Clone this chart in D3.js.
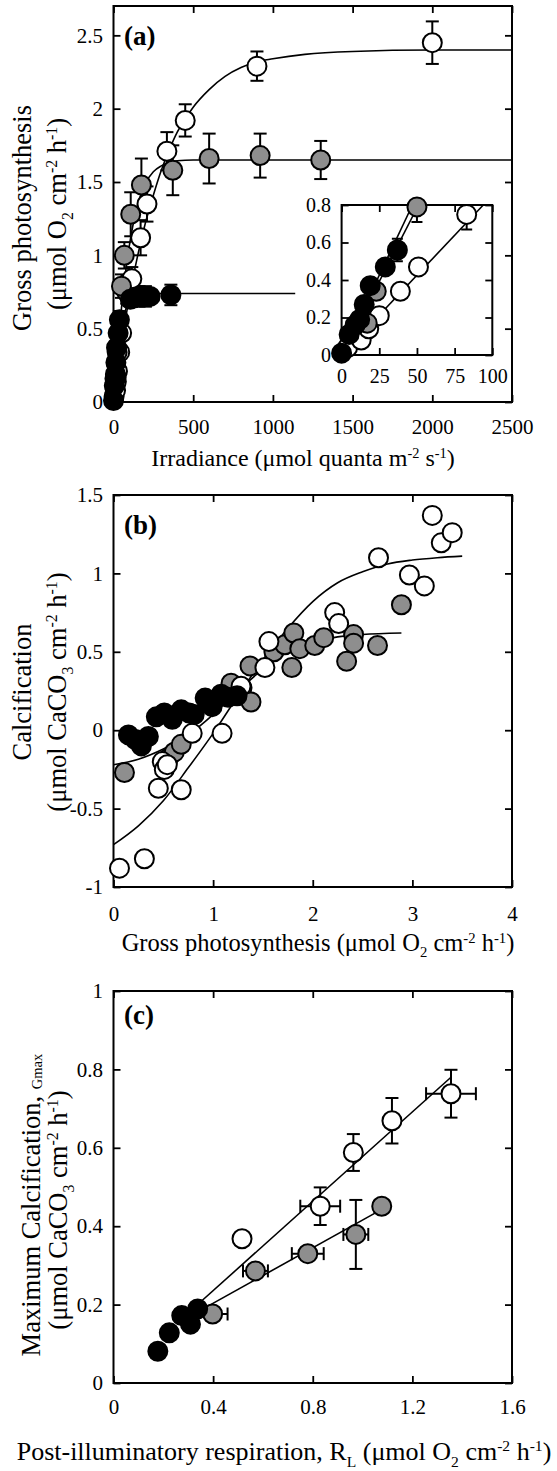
<!DOCTYPE html>
<html lang="en">
<head>
<meta charset="UTF-8">
<title>Photosynthesis and calcification</title>
<script src="https://cdn.jsdelivr.net/npm/d3@7"></script>
<style>
  body { margin: 0; background: #fff; }
  svg { display: block; }
</style>
</head>
<body>
<script>
// ---------- data ----------
// panel (a): [irradiance, gross photosynthesis, sd]
const aWhite = [[4,0.04,0],[13,0.08,0],[18,0.14,0],[25,0.21,0],[39,0.34,0],[51,0.47,0],[83,0.75,0.08],[115,0.84,0.08],[170,1.12,0.12],[210,1.35,0.12],[335,1.71,0.13],[450,1.92,0.11],[900,2.29,0.1],[2000,2.45,0.145]];
const aGray  = [[17,0.17,0],[23,0.34,0],[50,0.79,0.08],[68,1.0,0.09],[108,1.28,0.15],[175,1.48,0.18],[372,1.58,0.17],[600,1.66,0.17],[920,1.68,0.15],[1300,1.65,0.13]];
const aBlack = [[0,0.01,0],[5,0.11,0],[9,0.16,0],[12,0.19,0],[15,0.27,0],[19,0.37,0],[29,0.47,0],[37,0.56,0.06],[105,0.70,0],[130,0.71,0],[160,0.72,0.07],[200,0.72,0.07],[230,0.72,0],[360,0.73,0.07]];
// fitted P-I curves
const aWhiteFit = [[0,0],[50,0.39],[100,0.72],[150,0.99],[200,1.22],[250,1.41],[300,1.58],[350,1.72],[400,1.84],[450,1.93],[500,2.01],[600,2.13],[700,2.22],[800,2.28],[900,2.32],[1000,2.34],[1200,2.37],[1500,2.39],[2000,2.4],[2500,2.4]];
const aGrayFit  = [[0,0],[25,0.35],[50,0.64],[75,0.88],[100,1.07],[150,1.34],[200,1.49],[250,1.57],[300,1.61],[350,1.635],[400,1.645],[500,1.65],[2500,1.65]];
const aBlackFit = [[0,0],[10,0.15],[20,0.28],[30,0.38],[40,0.46],[60,0.57],[80,0.64],[100,0.68],[150,0.725],[200,0.737],[300,0.74],[1140,0.74]];
// inset (initial slope) lines
const insetWhiteFit = [[0,0],[94,0.8]];
const insetGrayFit  = [[0,0],[51,0.8]];
const insetBlackFit = [[0,0],[47,0.8]];
const aXTicks = [0,500,1000,1500,2000,2500];
const aYTicks = [0,0.5,1,1.5,2,2.5];
const insetXTicks = [0,25,50,75,100];
const insetYTicks = [0,0.2,0.4,0.6,0.8];

// panel (b): [gross photosynthesis, calcification]
const bWhite = [[0.06,-0.88],[0.31,-0.82],[0.45,-0.37],[0.68,-0.38],[0.49,-0.20],[0.51,-0.25],[0.54,-0.22],[0.79,-0.02],[1.09,-0.02],[1.28,0.28],[1.52,0.40],[1.56,0.565],[2.22,0.75],[2.26,0.68],[2.66,1.10],[2.97,0.99],[3.12,0.92],[3.20,1.37],[3.29,1.195],[3.40,1.26]];
const bGray  = [[0.11,-0.27],[0.55,-0.18],[0.61,-0.14],[0.68,-0.09],[1.18,0.30],[1.29,0.27],[1.37,0.41],[1.38,0.18],[1.61,0.50],[1.72,0.545],[1.79,0.40],[1.81,0.62],[1.87,0.52],[2.02,0.54],[2.11,0.59],[2.34,0.44],[2.41,0.61],[2.41,0.555],[2.65,0.54],[2.89,0.80]];
const bBlack = [[0.15,-0.03],[0.22,-0.06],[0.28,-0.10],[0.35,-0.04],[0.43,0.085],[0.51,0.11],[0.59,0.07],[0.68,0.13],[0.76,0.11],[0.81,0.10],[0.92,0.205],[0.99,0.15],[1.08,0.23],[1.15,0.21],[1.24,0.22]];
const bWhiteFit = [[0,-0.73],[0.25,-0.61],[0.5,-0.45],[0.75,-0.24],[1.0,-0.02],[1.25,0.22],[1.5,0.45],[1.75,0.65],[2.0,0.82],[2.25,0.94],[2.5,1.01],[2.75,1.06],[3.0,1.085],[3.25,1.10],[3.5,1.11]];
const bGrayFit  = [[0,-0.22],[0.25,-0.185],[0.5,-0.12],[0.75,-0.03],[1.0,0.10],[1.25,0.25],[1.5,0.39],[1.75,0.50],[2.0,0.56],[2.25,0.595],[2.5,0.61],[2.89,0.62]];
const bXTicks = [0,1,2,3,4];
const bYTicks = [-1,-0.5,0,0.5,1,1.5];

// panel (c): [R_L, Gmax, x sd, y sd]
const cWhite = [[0.516,0.368,0.02,0.012],[0.83,0.451,0.08,0.048],[0.963,0.588,0,0.047],[1.118,0.669,0,0.058],[1.355,0.738,0.10,0.061]];
const cGray  = [[0.398,0.176,0.06,0],[0.57,0.286,0.05,0],[0.78,0.33,0.064,0],[0.973,0.379,0.05,0.088],[1.077,0.451,0.03,0]];
const cBlack = [[0.178,0.081,0,0],[0.224,0.128,0,0],[0.274,0.172,0,0],[0.309,0.150,0,0],[0.338,0.189,0,0]];
const cWhiteFit = [[0.32,0.19],[1.355,0.78]];
const cGrayFit  = [[0.345,0.184],[1.086,0.446]];
const cXTicks = [0,0.4,0.8,1.2,1.6];
const cYTicks = [0,0.2,0.4,0.6,0.8,1];

// ---------- drawing ----------
const FONT = '"Liberation Serif", "Times New Roman", serif';
const GRAY = "#8e8e8e";
const R = 9.5;

const svg = d3.select("body").append("svg")
  .attr("width", 557).attr("height", 1471)
  .style("font-family", FONT);

// tick marks point inwards on all four sides, labels only bottom/left
function axes(g, x, y, xt, yt, fs, xPad) {
  const [x0, x1] = x.range(), [y0, y1] = y.range();
  const fmt = d => String(d);
  const style = s => {
    s.select(".domain").remove();
    s.attr("font-family", FONT).attr("font-size", fs);
    s.selectAll("line").attr("stroke-width", 1.8);
    s.selectAll("text").attr("fill", "#000");
  };
  g.append("g").attr("transform", `translate(0,${y0})`)
    .call(d3.axisBottom(x).tickValues(xt).tickSize(-7).tickPadding(xPad).tickFormat(fmt)).call(style);
  g.append("g").attr("transform", `translate(${x0},0)`)
    .call(d3.axisLeft(y).tickValues(yt).tickSize(-7).tickPadding(10.5).tickFormat(fmt)).call(style);
  g.append("g").attr("transform", `translate(0,${y1})`)
    .call(d3.axisTop(x).tickValues(xt).tickSize(-7).tickFormat("")).call(style);
  g.append("g").attr("transform", `translate(${x1},0)`)
    .call(d3.axisRight(y).tickValues(yt).tickSize(-7).tickFormat("")).call(style);
}

function frame(g, x, y, fill) {
  const [x0, x1] = x.range(), [y0, y1] = y.range();
  g.append("rect").attr("x", x0).attr("y", y1)
    .attr("width", x1 - x0).attr("height", y0 - y1)
    .attr("fill", fill).attr("stroke", "#000").attr("stroke-width", 2);
}

function fit(g, x, y, pts) {
  g.append("path").datum(pts)
    .attr("d", d3.line().x(d => x(d[0])).y(d => y(d[1])).curve(d3.curveMonotoneX))
    .attr("fill", "none").attr("stroke", "#000").attr("stroke-width", 1.6);
}

// vertical error = d[ye], horizontal error = d[xe]
function errs(g, x, y, data, ye, xe, cap) {
  const s = g.append("g").attr("stroke", "#000").attr("stroke-width", 2);
  data.filter(d => d[ye] > 0).forEach(d => {
    const cx = x(d[0]), lo = y(d[1] - d[ye]), hi = y(d[1] + d[ye]);
    s.append("line").attr("x1", cx).attr("x2", cx).attr("y1", lo).attr("y2", hi);
    s.append("line").attr("x1", cx - cap).attr("x2", cx + cap).attr("y1", lo).attr("y2", lo);
    s.append("line").attr("x1", cx - cap).attr("x2", cx + cap).attr("y1", hi).attr("y2", hi);
  });
  if (xe != null) {
    data.filter(d => d[xe] > 0).forEach(d => {
      const cy = y(d[1]), l = x(d[0] - d[xe]), r = x(d[0] + d[xe]);
      s.append("line").attr("x1", l).attr("x2", r).attr("y1", cy).attr("y2", cy);
      s.append("line").attr("x1", l).attr("x2", l).attr("y1", cy - cap).attr("y2", cy + cap);
      s.append("line").attr("x1", r).attr("x2", r).attr("y1", cy - cap).attr("y2", cy + cap);
    });
  }
  return s;
}

function dots(g, x, y, data, fill) {
  g.append("g").selectAll("circle").data(data).join("circle")
    .attr("cx", d => x(d[0])).attr("cy", d => y(d[1])).attr("r", R)
    .attr("fill", fill).attr("stroke", "#000").attr("stroke-width", 2);
}

// text with sub/superscript pieces: ["txt"] or ["txt","sup"|"sub"|"small"]
function rich(t, parts, fs) {
  parts.forEach(([s, k]) => {
    const ts = t.append("tspan").text(s);
    if (k === "sup") ts.attr("font-size", fs * 0.6).attr("baseline-shift", fs * 0.34);
    if (k === "sub") ts.attr("font-size", fs * 0.6).attr("baseline-shift", -fs * 0.26);
    if (k === "small") ts.attr("font-size", fs * 0.55).attr("baseline-shift", -fs * 0.08);
  });
}

function xTitle(cx, by, parts, fs) {
  rich(svg.append("text").attr("x", cx).attr("y", by).attr("text-anchor", "middle")
    .attr("font-size", fs), parts, fs);
}
function yTitle(bx, cy, parts, fs) {
  rich(svg.append("text").attr("transform", `translate(${bx},${cy}) rotate(-90)`)
    .attr("text-anchor", "middle").attr("font-size", fs), parts, fs);
}
function tag(x, y, s) {
  svg.append("text").attr("x", x).attr("y", y).attr("font-size", 27)
    .attr("font-weight", "bold").text(s);
}

const units = (mol) => [["(μmol " + mol[0]], [mol[1], "sub"], [" cm"], ["-2", "sup"], [" h"], ["-1", "sup"], [")"]];

// ---- panel (a)
{
  const g = svg.append("g");
  const x = d3.scaleLinear().domain([0, 2500]).range([113.5, 512]);
  const y = d3.scaleLinear().domain([0, 2.7]).range([402, 6]);
  frame(g, x, y, "none");
  axes(g, x, y, aXTicks, aYTicks, 21, 17);
  fit(g, x, y, aWhiteFit);
  fit(g, x, y, aGrayFit);
  fit(g, x, y, aBlackFit);
  errs(g, x, y, aWhite, 2, null, 6.5);
  errs(g, x, y, aGray, 2, null, 6.5);
  errs(g, x, y, aBlack, 2, null, 6.5);
  dots(g, x, y, aWhite, "#fff");
  dots(g, x, y, aGray, GRAY);
  dots(g, x, y, aBlack, "#000");

  // inset: low-light part of the same data
  const ix = d3.scaleLinear().domain([0, 100]).range([341.6, 492.3]);
  const iy = d3.scaleLinear().domain([0, 0.8]).range([355, 205]);
  const inLow = d => d[0] <= 100 && d[1] <= 0.8;
  const gi = svg.append("g");
  svg.append("clipPath").attr("id", "inset-clip").append("rect")
    .attr("x", 341.6).attr("y", 205).attr("width", 492.3 - 341.6).attr("height", 150);
  frame(gi, ix, iy, "#fff");
  axes(gi, ix, iy, insetXTicks, insetYTicks, 20, 14);
  fit(gi, ix, iy, insetWhiteFit);
  fit(gi, ix, iy, insetGrayFit);
  fit(gi, ix, iy, insetBlackFit);
  [aWhite, aGray, aBlack].forEach(s =>
    errs(gi, ix, iy, s.filter(inLow), 2, null, 5.5).attr("clip-path", "url(#inset-clip)"));
  dots(gi, ix, iy, aWhite.filter(inLow), "#fff");
  dots(gi, ix, iy, aGray.filter(inLow), GRAY);
  dots(gi, ix, iy, aBlack.filter(inLow), "#000");

  tag(124, 45, "(a)");
  xTitle(303, 466, [["Irradiance (μmol quanta m"], ["-2", "sup"], [" s"], ["-1", "sup"], [")"]], 24);
  yTitle(31, 218, [["Gross photosynthesis"]], 26.5);
  yTitle(66, 214, units(["O", "2"]), 26.5);
}

// ---- panel (b)
{
  const g = svg.append("g");
  const x = d3.scaleLinear().domain([0, 4]).range([113.5, 512]);
  const y = d3.scaleLinear().domain([-1, 1.5]).range([887, 495]);
  frame(g, x, y, "none");
  axes(g, x, y, bXTicks, bYTicks, 21, 19);
  fit(g, x, y, bWhiteFit);
  fit(g, x, y, bGrayFit);
  dots(g, x, y, bGray, GRAY);
  dots(g, x, y, bWhite, "#fff");
  dots(g, x, y, bBlack, "#000");

  tag(124, 534, "(b)");
  xTitle(318, 951, [["Gross photosynthesis (μmol O"], ["2", "sub"], [" cm"], ["-2", "sup"], [" h"], ["-1", "sup"], [")"]], 24.5);
  yTitle(31, 692, [["Calcification"]], 26.5);
  yTitle(66, 692, units(["CaCO", "3"]), 26.5);
}

// ---- panel (c)
{
  const g = svg.append("g");
  const x = d3.scaleLinear().domain([0, 1.6]).range([113.5, 512]);
  const y = d3.scaleLinear().domain([0, 1]).range([1383, 991]);
  frame(g, x, y, "none");
  axes(g, x, y, cXTicks, cYTicks, 21, 16);
  fit(g, x, y, cWhiteFit);
  fit(g, x, y, cGrayFit);
  errs(g, x, y, cWhite, 3, 2, 6.5);
  errs(g, x, y, cGray, 3, 2, 6.5);
  dots(g, x, y, cWhite, "#fff");
  dots(g, x, y, cGray, GRAY);
  dots(g, x, y, cBlack, "#000");

  tag(124, 1024, "(c)");
  xTitle(284, 1460, [["Post-illuminatory respiration, R"], ["L", "sub"], [" (μmol O"], ["2", "sub"], [" cm"], ["-2", "sup"], [" h"], ["-1", "sup"], [")"]], 26);
  yTitle(40, 1205, [["Maximum Calcification, "], ["Gmax", "small"]], 26.5);
  yTitle(67, 1210, units(["CaCO", "3"]), 26.5);
}
</script>
</body>
</html>
